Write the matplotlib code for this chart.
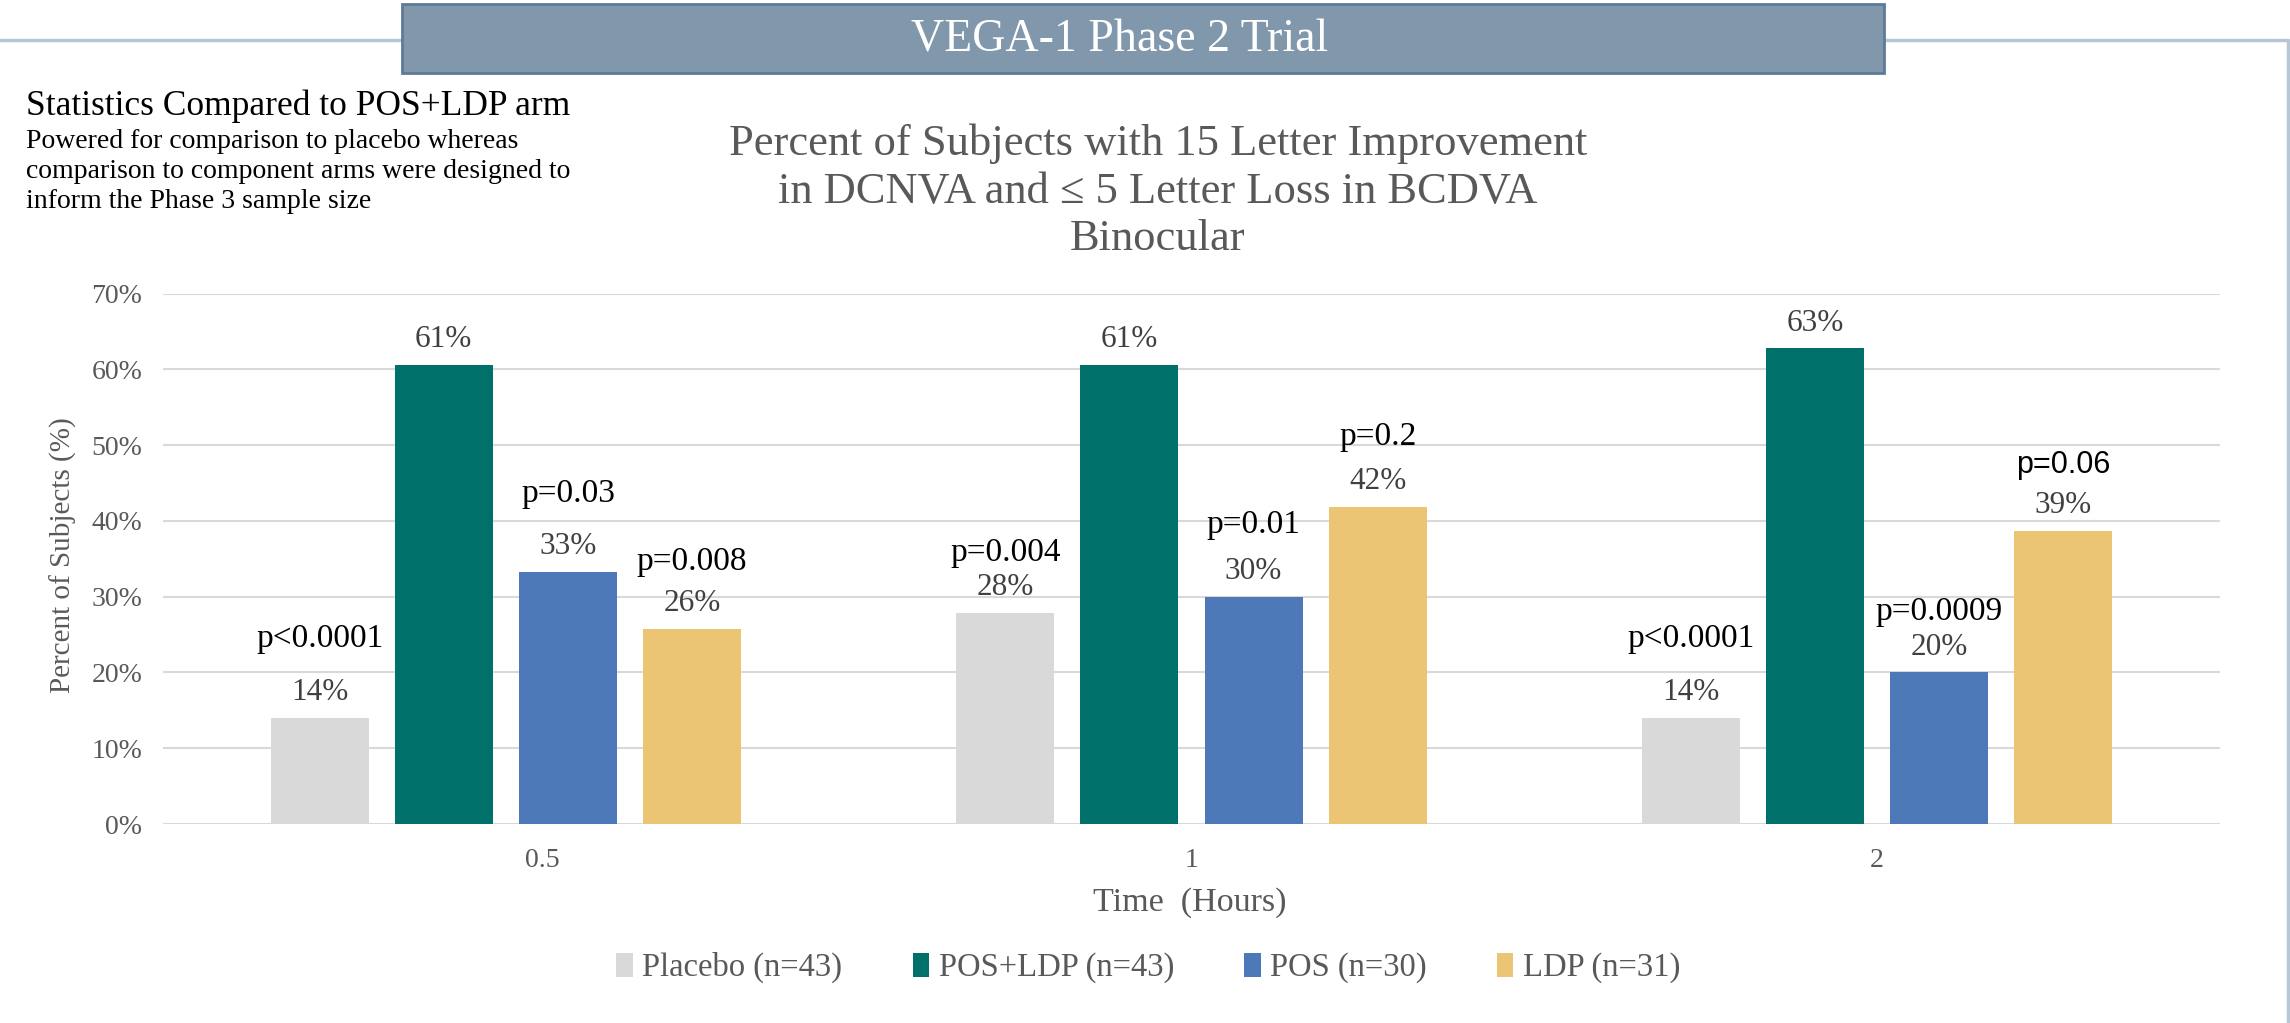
import numpy as np
import matplotlib.pyplot as plt
import matplotlib.transforms as mtransforms
from matplotlib.patches import Rectangle, Patch
from matplotlib.lines import Line2D

serif = ['Liberation Serif', 'DejaVu Serif']
plt.rcParams['font.family'] = serif

# Data
times = ['0.5', '1', '2']
arms = ['Placebo (n=43)', 'POS+LDP (n=43)', 'POS (n=30)', 'LDP (n=31)']
placebo = [14.0, 27.9, 14.0]
pos_ldp = [60.6, 60.6, 62.8]
pos = [33.3, 30.0, 20.0]
ldp = [25.8, 41.9, 38.7]

p_placebo = ['p<0.0001', 'p=0.004', 'p<0.0001']
p_pos = ['p=0.03', 'p=0.01', 'p=0.0009']
p_ldp = ['p=0.008', 'p=0.2', 'p=0.06']

colors = ['#D9D9D9', '#00706B', '#4E79B8', '#EBC574']
series = [placebo, pos_ldp, pos, ldp]
pvals = [p_placebo, None, p_pos, p_ldp]
# vertical gap (points) between the percent label and the p-value label
p_gaps = [[39, 25, 39], None, [38, 34, 26], [30, 32, 29]]

fig = plt.figure(figsize=(22.9, 10.23), dpi=100)

# frame line and banner
fig.add_artist(Line2D([0, 0.9993, 0.9993], [0.961, 0.961, 0.0],
                      transform=fig.transFigure, color='#B7C6D5', lw=2.5, zorder=0))
fig.add_artist(Rectangle((0.1755, 0.9286), 0.647, 0.0675, transform=fig.transFigure,
                         facecolor='#8097AC', edgecolor='#5F7A96', lw=2, zorder=1))
fig.text(0.489, 0.961, 'VEGA-1 Phase 2 Trial', ha='center', va='center',
         color='white', fontsize=33, zorder=2)

# notes top left
fig.text(0.0114, 0.896, 'Statistics Compared to POS+LDP arm', ha='left', va='center',
         fontsize=25.5, color='black')
notes = ['Powered for comparison to placebo whereas',
         'comparison to component arms were designed to',
         'inform the Phase 3 sample size']
for i, line in enumerate(notes):
    fig.text(0.0114, 0.862 - i * 0.0297, line, ha='left', va='center',
             fontsize=20, color='black')

# chart title
fig.text(0.5057, 0.813, 'Percent of Subjects with 15 Letter Improvement\n'
         'in DCNVA and \u2264 5 Letter Loss in BCDVA\nBinocular',
         ha='center', va='center', fontsize=32, color='#595959', linespacing=1.25)

ax = fig.add_axes([0.0712, 0.1945, 0.8982, 0.5185])
x = np.arange(len(times))
step = 0.181
width = 0.143
for i, (vals, col) in enumerate(zip(series, colors)):
    xs = x + (i - 1.5) * step
    ax.bar(xs, vals, width=width, color=col, label=arms[i], zorder=2)
    for j, v in enumerate(vals):
        ax.annotate(f'{v:.0f}%', (xs[j], v), xytext=(0, 18), textcoords='offset points',
                    ha='center', va='center', fontsize=22.5, color='#404040')
        if pvals[i] is not None:
            txt = pvals[i][j]
            fam = ['Liberation Sans', 'DejaVu Sans'] if txt == 'p=0.06' else serif
            fs = 22 if txt == 'p=0.06' else 24
            ax.annotate(txt, (xs[j], v), xytext=(0, 18 + p_gaps[i][j]),
                        textcoords='offset points', ha='center', va='center',
                        fontsize=fs, color='black', family=fam)

ax.set_xlim(-0.5, 2.5)
ax.set_ylim(0, 70)
ax.set_yticks(np.arange(0, 71, 10))
ax.set_yticklabels([f'{t}%' for t in range(0, 71, 10)])
ax.set_xticks(x)
ax.set_xticklabels(times)
ax.tick_params(axis='both', length=0, labelsize=20, labelcolor='#595959')
ax.tick_params(axis='y', pad=15)
ax.tick_params(axis='x', pad=17)
# first time label sits right of its group in the original
lbl = ax.get_xticklabels()[0]
lbl.set_transform(lbl.get_transform() + mtransforms.ScaledTranslation(0.36, 0, fig.dpi_scale_trans))
ax.grid(axis='y', color='#D9D9D9', lw=1.5, zorder=0)
ax.set_axisbelow(True)
for s in ax.spines.values():
    s.set_visible(False)

fig.text(0.0275, 0.4575, 'Percent of Subjects (%)', rotation=90, ha='center', va='center',
         fontsize=21, color='#595959')
fig.text(0.5197, 0.118, 'Time  (Hours)', ha='center', va='center', fontsize=24.5,
         color='#595959')

handles = [Patch(facecolor=c, edgecolor='none') for c in colors]
fig.legend(handles, arms, loc='center', bbox_to_anchor=(0.5015, 0.054), ncol=4,
           frameon=False, fontsize=23.5, labelcolor='#595959', handlelength=0.5,
           handleheight=0.75, handletextpad=0.3, columnspacing=2.15)

fig.savefig('out.png', dpi=100)
